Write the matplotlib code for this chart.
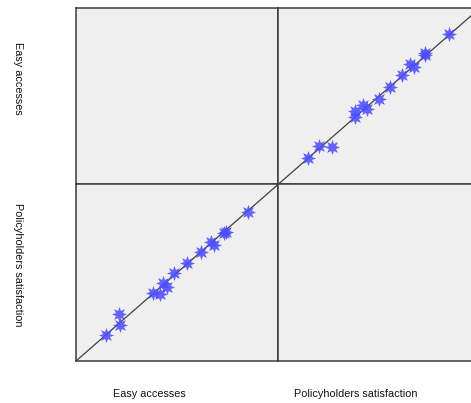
import matplotlib
matplotlib.use("Agg")
import matplotlib.pyplot as plt

# values (arbitrary unit scale, no ticks shown)
variables = ["Easy accesses", "Policyholders satisfaction"]
easy_accesses = [0.15, 0.22, 0.215, 0.383, 0.418, 0.43, 0.45, 0.486,
                 0.55, 0.618, 0.668, 0.685, 0.735, 0.745, 0.85]
satisfaction = [0.15, 0.205, 0.267, 0.383, 0.379, 0.44, 0.42, 0.498,
                0.556, 0.615, 0.672, 0.655, 0.728, 0.73, 0.846]

W, H = 471, 403
DPI = 100
BG = "#efefef"
EDGE = "#3c3c3c"
STAR = "#4b4bff"

fig = plt.figure(figsize=(W / DPI, H / DPI), dpi=DPI)
fig.patch.set_facecolor("white")

# panel geometry in pixels (right column runs past the image edge, as in the source)
x0, pw = 76, 202
y_top, ph = 8, 176.5

data = {variables[0]: easy_accesses, variables[1]: satisfaction}

for row, yvar in enumerate(variables):
    for col, xvar in enumerate(variables):
        left = (x0 + col * pw) / W
        bottom = 1 - (y_top + (row + 1) * ph) / H
        ax = fig.add_axes([left, bottom, pw / W, ph / H])
        ax.set_facecolor(BG)
        ax.set_xlim(0, 1)
        ax.set_ylim(0, 1)
        ax.set_xticks([])
        ax.set_yticks([])
        for sp in ax.spines.values():
            sp.set_color(EDGE)
            sp.set_linewidth(1.1)
        if xvar == yvar:
            continue
        ax.plot([0, 1], [0, 1], color="#404040", lw=0.9, zorder=2)
        ax.plot(data[xvar], data[yvar], linestyle="none",
                marker=(8, 1, 0), markersize=11, color=STAR,
                markeredgewidth=0, alpha=0.85, zorder=3)

font = dict(family=["Liberation Sans", "DejaVu Sans"], fontsize=7.8, color="#111111")

# row labels on the left, read top to bottom
fig.text(18 / W, 1 - 78 / H, variables[0], rotation=-90, ha="center", va="center", **font)
fig.text(18 / W, 1 - 265 / H, variables[1], rotation=-90, ha="center", va="center", **font)

# column labels along the bottom
fig.text(149 / W, 1 - 394 / H, variables[0], ha="center", va="center", **font)
fig.text(356 / W, 1 - 394 / H, variables[1], ha="center", va="center", **font)

fig.savefig("out.png", dpi=DPI)
